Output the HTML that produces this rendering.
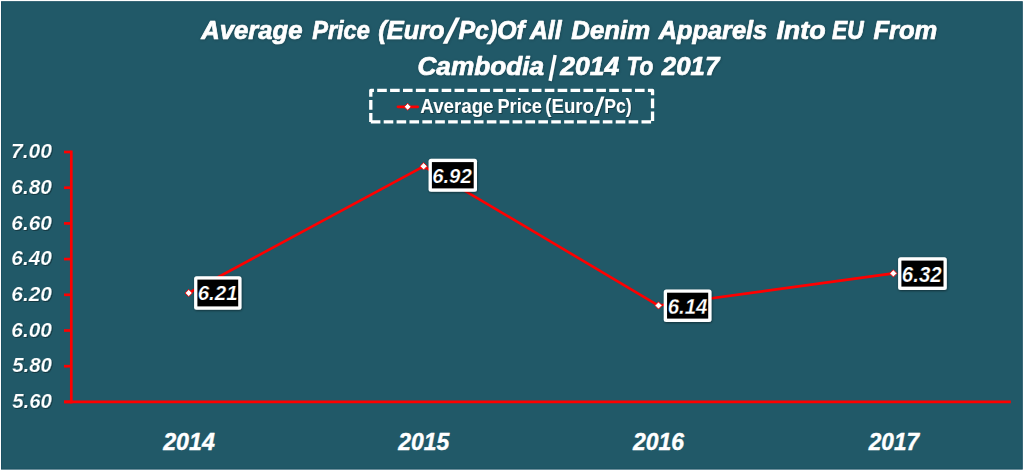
<!DOCTYPE html>
<html><head><meta charset="utf-8"><title>Chart</title>
<style>
html,body{margin:0;padding:0;background:#fff;}
body{width:1024px;height:471px;overflow:hidden;position:relative;font-family:"Liberation Sans",sans-serif;}
svg{position:absolute;left:0;top:0;display:block}
text{font-family:"Liberation Sans",sans-serif;fill:#fff}
</style></head><body>
<svg width="1024" height="471" viewBox="0 0 1024 471">
<defs>
<filter id="ts" x="-10%" y="-30%" width="120%" height="160%"><feDropShadow dx="0.8" dy="0.8" stdDeviation="0.7" flood-color="#000" flood-opacity="0.45"/></filter>
<filter id="tt" x="-5%" y="-30%" width="110%" height="160%"><feDropShadow dx="0.4" dy="0.5" stdDeviation="0.8" flood-color="#000" flood-opacity="0.3"/></filter>
<filter id="bs" x="-20%" y="-20%" width="140%" height="140%"><feDropShadow dx="0.5" dy="0.8" stdDeviation="1.2" flood-color="#000" flood-opacity="0.5"/></filter>
</defs>
<rect x="0" y="0" width="1024" height="471" fill="#fff"/>
<rect x="1.5" y="1.7" width="1020.8" height="467.4" fill="#215968" stroke="#1b5063" stroke-width="1"/>
<g stroke="#ff0000" stroke-width="2.7" fill="none">
<line x1="71.3" x2="71.3" y1="150.5" y2="403.4"/>
<line x1="64" x2="1010.8" y1="401.9" y2="401.9"/>
<line x1="64" x2="71.3" y1="152.00" y2="152.00"/><line x1="64" x2="71.3" y1="187.70" y2="187.70"/><line x1="64" x2="71.3" y1="223.40" y2="223.40"/><line x1="64" x2="71.3" y1="259.10" y2="259.10"/><line x1="64" x2="71.3" y1="294.80" y2="294.80"/><line x1="64" x2="71.3" y1="330.50" y2="330.50"/><line x1="64" x2="71.3" y1="366.20" y2="366.20"/><line x1="64" x2="71.3" y1="401.90" y2="401.90"/>
</g>
<polyline points="188.74,293.01 423.61,166.28 658.49,305.51 893.36,273.38" fill="none" stroke="#ff0000" stroke-width="2.6" stroke-linejoin="round"/>
<g fill="#fff" stroke="#ff0000" stroke-width="0.9"><path d="M185.14 293.01 L188.74 289.41 L192.34 293.01 L188.74 296.61 Z"/><path d="M420.01 166.28 L423.61 162.68 L427.21 166.28 L423.61 169.88 Z"/><path d="M654.89 305.51 L658.49 301.91 L662.09 305.51 L658.49 309.11 Z"/><path d="M889.76 273.38 L893.36 269.78 L896.96 273.38 L893.36 276.98 Z"/></g>
<g filter="url(#bs)"><rect x="194.1" y="276.3" width="47.40" height="33.40" rx="2.5" fill="#fff"/><rect x="197.40" y="279.60" width="40.80" height="26.80" fill="#000"/><rect x="428.6" y="158.8" width="48.40" height="32.90" rx="2.5" fill="#fff"/><rect x="431.90" y="162.10" width="41.80" height="26.30" fill="#000"/><rect x="663.75" y="289.4" width="47.75" height="32.50" rx="2.5" fill="#fff"/><rect x="667.05" y="292.70" width="41.15" height="25.90" fill="#000"/><rect x="898.1" y="257.3" width="48.70" height="32.60" rx="2.5" fill="#fff"/><rect x="901.40" y="260.60" width="42.10" height="26.00" fill="#000"/></g>
<g fill="none" stroke="#fff" stroke-width="3.3" stroke-linejoin="round" stroke-dasharray="9.6 3.29">
<path d="M370.8 121.9 V90.3 H652.55 V121.9" stroke-dashoffset="0.67"/>
<path d="M370.8 121.9 H652.55"/>
</g>
<line x1="398" x2="417.7" y1="106.8" y2="106.8" stroke="#ff0000" stroke-width="2.8" stroke-linecap="round"/>
<path d="M404.3 106.8 L407.65 103.3 L411 106.8 L407.65 110.3 Z" fill="#fff" stroke="#ff0000" stroke-width="0.9"/>
<g filter="url(#tt)">
<line x1="550.1" y1="80.9" x2="555.1" y2="55" stroke="#fff" stroke-width="3.4"/>
<polygon points="442.7,43.8 447.3,43.8 460.2,17.6 455.8,17.6" fill="#fff"/>
<text transform="translate(201.27 39.05) scale(1.0049 1)" font-size="25.51" font-weight="bold" font-style="italic" stroke="#fff" stroke-width="0.7" stroke-linejoin="round">Average</text>
<text transform="translate(312.20 39.05) scale(0.9228 1)" font-size="25.51" font-weight="bold" font-style="italic" stroke="#fff" stroke-width="0.7" stroke-linejoin="round">Price</text>
<text transform="translate(378.29 39.05) scale(0.9946 1)" font-size="25.51" font-weight="bold" font-style="italic" stroke="#fff" stroke-width="0.7" stroke-linejoin="round">(Euro</text>
<text transform="translate(458.50 39.05) scale(0.9759 1)" font-size="25.51" font-weight="bold" font-style="italic" stroke="#fff" stroke-width="0.7" stroke-linejoin="round">Pc)Of</text>
<text transform="translate(529.94 39.05) scale(0.9713 1)" font-size="25.51" font-weight="bold" font-style="italic" stroke="#fff" stroke-width="0.7" stroke-linejoin="round">All</text>
<text transform="translate(571.30 39.05) scale(1.0118 1)" font-size="25.51" font-weight="bold" font-style="italic" stroke="#fff" stroke-width="0.7" stroke-linejoin="round">Denim</text>
<text transform="translate(658.76 39.05) scale(0.9925 1)" font-size="25.51" font-weight="bold" font-style="italic" stroke="#fff" stroke-width="0.7" stroke-linejoin="round">Apparels</text>
<text transform="translate(776.40 39.05) scale(1.0512 1)" font-size="25.51" font-weight="bold" font-style="italic" stroke="#fff" stroke-width="0.7" stroke-linejoin="round">Into</text>
<text transform="translate(832.00 39.05) scale(0.8671 1)" font-size="26.23" font-weight="bold" font-style="italic" stroke="#fff" stroke-width="0.7" stroke-linejoin="round">EU</text>
<text transform="translate(873.40 39.05) scale(1.0015 1)" font-size="25.51" font-weight="bold" font-style="italic" stroke="#fff" stroke-width="0.7" stroke-linejoin="round">From</text>
<text transform="translate(417.41 75.45) scale(1.0280 1)" font-size="25.51" font-weight="bold" font-style="italic" stroke="#fff" stroke-width="0.7" stroke-linejoin="round">Cambodia</text>
<text transform="translate(626.55 75.45) scale(0.8830 1)" font-size="25.51" font-weight="bold" font-style="italic" stroke="#fff" stroke-width="0.7" stroke-linejoin="round">To</text>
<text transform="translate(560.29 75.39) scale(1.0057 1)" font-size="26.34" font-weight="bold" font-style="italic" stroke="#fff" stroke-width="0.7" stroke-linejoin="round">2014</text>
<text transform="translate(661.87 75.39) scale(0.9796 1)" font-size="26.34" font-weight="bold" font-style="italic" stroke="#fff" stroke-width="0.7" stroke-linejoin="round">2017</text>
</g>
<g filter="url(#ts)">
<polygon points="594.3,115.9 597.5,115.9 604.4,96.4 601.2,96.4" fill="#fff"/>
<text transform="translate(420.34 112.90) scale(0.9641 1)" font-size="19.42" font-weight="bold" font-style="normal">Average</text>
<text transform="translate(497.48 112.90) scale(0.9352 1)" font-size="19.42" font-weight="bold" font-style="normal">Price</text>
<text transform="translate(545.37 112.90) scale(0.9583 1)" font-size="19.42" font-weight="bold" font-style="normal">(Euro</text>
<text transform="translate(604.37 112.90) scale(0.9047 1)" font-size="19.42" font-weight="bold" font-style="normal">Pc)</text>
</g>
<g filter="url(#ts)">
<text transform="translate(10.92 158.20) scale(1.0318 1)" font-size="20.42" font-weight="bold" font-style="italic" stroke="#215968" stroke-width="0.2">7.00</text>
<text transform="translate(11.36 193.90) scale(1.0209 1)" font-size="20.42" font-weight="bold" font-style="italic" stroke="#215968" stroke-width="0.2">6.80</text>
<text transform="translate(11.36 229.60) scale(1.0209 1)" font-size="20.42" font-weight="bold" font-style="italic" stroke="#215968" stroke-width="0.2">6.60</text>
<text transform="translate(11.36 265.30) scale(1.0209 1)" font-size="20.42" font-weight="bold" font-style="italic" stroke="#215968" stroke-width="0.2">6.40</text>
<text transform="translate(11.36 301.00) scale(1.0209 1)" font-size="20.42" font-weight="bold" font-style="italic" stroke="#215968" stroke-width="0.2">6.20</text>
<text transform="translate(11.36 336.70) scale(1.0209 1)" font-size="20.42" font-weight="bold" font-style="italic" stroke="#215968" stroke-width="0.2">6.00</text>
<text transform="translate(12.20 372.40) scale(0.9996 1)" font-size="20.42" font-weight="bold" font-style="italic" stroke="#215968" stroke-width="0.2">5.80</text>
<text transform="translate(12.20 408.10) scale(0.9996 1)" font-size="20.42" font-weight="bold" font-style="italic" stroke="#215968" stroke-width="0.2">5.60</text>
</g>
<g>
<text transform="translate(197.70 300.12) scale(0.9821 1)" font-size="20.92" font-weight="bold" font-style="italic" stroke="#000" stroke-width="0.25">6.21</text>
<text transform="translate(432.16 182.72) scale(0.9758 1)" font-size="20.85" font-weight="bold" font-style="italic" stroke="#000" stroke-width="0.25">6.92</text>
<text transform="translate(667.71 313.61) scale(0.9507 1)" font-size="21.48" font-weight="bold" font-style="italic" stroke="#000" stroke-width="0.25">6.14</text>
<text transform="translate(901.86 281.61) scale(0.9394 1)" font-size="21.76" font-weight="bold" font-style="italic" stroke="#000" stroke-width="0.25">6.32</text>
</g>
<g>
<text transform="translate(163.16 449.77) scale(0.9935 1)" font-size="23.38" font-weight="bold" font-style="italic" stroke="#fff" stroke-width="0.4" stroke-linejoin="round">2014</text>
<text transform="translate(398.16 449.77) scale(0.9803 1)" font-size="23.38" font-weight="bold" font-style="italic" stroke="#fff" stroke-width="0.4" stroke-linejoin="round">2015</text>
<text transform="translate(633.06 449.77) scale(0.9803 1)" font-size="23.38" font-weight="bold" font-style="italic" stroke="#fff" stroke-width="0.4" stroke-linejoin="round">2016</text>
<text transform="translate(868.75 449.77) scale(0.9675 1)" font-size="23.38" font-weight="bold" font-style="italic" stroke="#fff" stroke-width="0.4" stroke-linejoin="round">2017</text>
</g>
</svg>
</body></html>
